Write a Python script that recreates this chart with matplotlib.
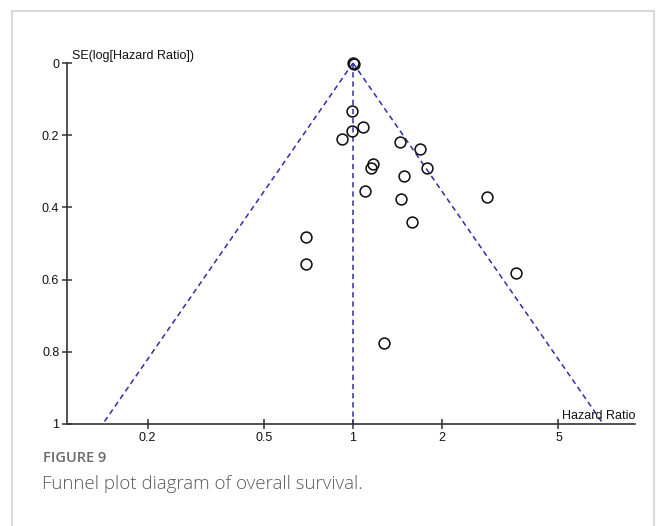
import matplotlib
matplotlib.use("Agg")
import matplotlib.pyplot as plt
import numpy as np

# study estimates: hazard ratio and standard error of log(HR)
hr = [1.00, 1.005, 0.99, 0.99, 1.079, 0.917, 1.441, 1.690, 1.173, 1.151,
      1.784, 1.487, 1.096, 1.453, 2.849, 1.592, 0.694, 0.694, 3.59, 1.272]
se = [0.000, 0.002, 0.132, 0.188, 0.178, 0.210, 0.220, 0.237, 0.280, 0.291,
      0.291, 0.312, 0.355, 0.378, 0.371, 0.441, 0.483, 0.556, 0.583, 0.776]
pooled_hr = 1.0

x_ticks = [0.2, 0.5, 1, 2, 5]
x_ticklabels = ["0.2", "0.5", "1", "2", "5"]
y_ticks = [0, 0.2, 0.4, 0.6, 0.8, 1]
y_ticklabels = ["0", "0.2", "0.4", "0.6", "0.8", "1"]

W, H = 656, 526
fig = plt.figure(figsize=(W / 100, H / 100), dpi=100)

# light frame around the figure panel
frame = plt.Rectangle((12 / W, -0.1), (654 - 12) / W, 1.1 - 11 / H,
                      transform=fig.transFigure, fill=False,
                      edgecolor="#d9d9d9", linewidth=1.5)
fig.patches.append(frame)

ax = fig.add_axes([67 / W, 1 - 424 / H, (635 - 67) / W, (424 - 63) / H])
ax.set_xscale("log")
ax.set_xlim(10 ** ((67 - 353) / 294), 10 ** ((635 - 353) / 294))
ax.set_ylim(1, 0)

# funnel: pseudo 95% limits around the pooled estimate
se_line = np.array([0, 1])
funnel = dict(color="#2e2ea8", ls=(0, (3.5, 2.5)), lw=1.1, clip_on=False)
ax.plot(pooled_hr * np.exp(-1.96 * se_line), se_line, **funnel)
ax.plot(pooled_hr * np.exp(1.96 * se_line), se_line, **funnel)
ax.plot([pooled_hr, pooled_hr], [0, 1], **funnel)

ax.plot(hr, se, "o", mfc="none", mec="#111111", mew=1.15, ms=7.8,
        clip_on=False, zorder=3)

for side in ("top", "right"):
    ax.spines[side].set_visible(False)
for side in ("left", "bottom"):
    ax.spines[side].set_color("#333333")
    ax.spines[side].set_linewidth(1.2)

ax.set_xticks(x_ticks)
ax.set_xticklabels(x_ticklabels)
ax.xaxis.set_minor_locator(matplotlib.ticker.NullLocator())
ax.set_yticks(y_ticks)
ax.set_yticklabels(y_ticklabels)
ax.tick_params(direction="inout", length=7, width=1.1, color="#333333",
               labelsize=9, labelcolor="#111111", pad=2)
for lab in ax.get_xticklabels() + ax.get_yticklabels():
    lab.set_family("Liberation Sans")

ax.text(0.008, 1.004, "SE(log[Hazard Ratio])", transform=ax.transAxes,
        ha="left", va="bottom", fontsize=9, family="Liberation Sans",
        color="#111111")
ax.text(1.0, 0.005, "Hazard Ratio", transform=ax.transAxes,
        ha="right", va="bottom", fontsize=9, family="Liberation Sans",
        color="#111111")

fig.text(43 / W, 1 - 458 / H, "FIGURE 9", ha="left", va="center",
         fontsize=10.5, family="Open Sans", weight="semibold", color="#6a6a6a")
fig.text(42 / W, 1 - 484 / H, "Funnel plot diagram of overall survival.",
         ha="left", va="center", fontsize=13.5, family="Open Sans",
         weight="light", color="#5a5a5a")

fig.savefig("out.png", dpi=100)
